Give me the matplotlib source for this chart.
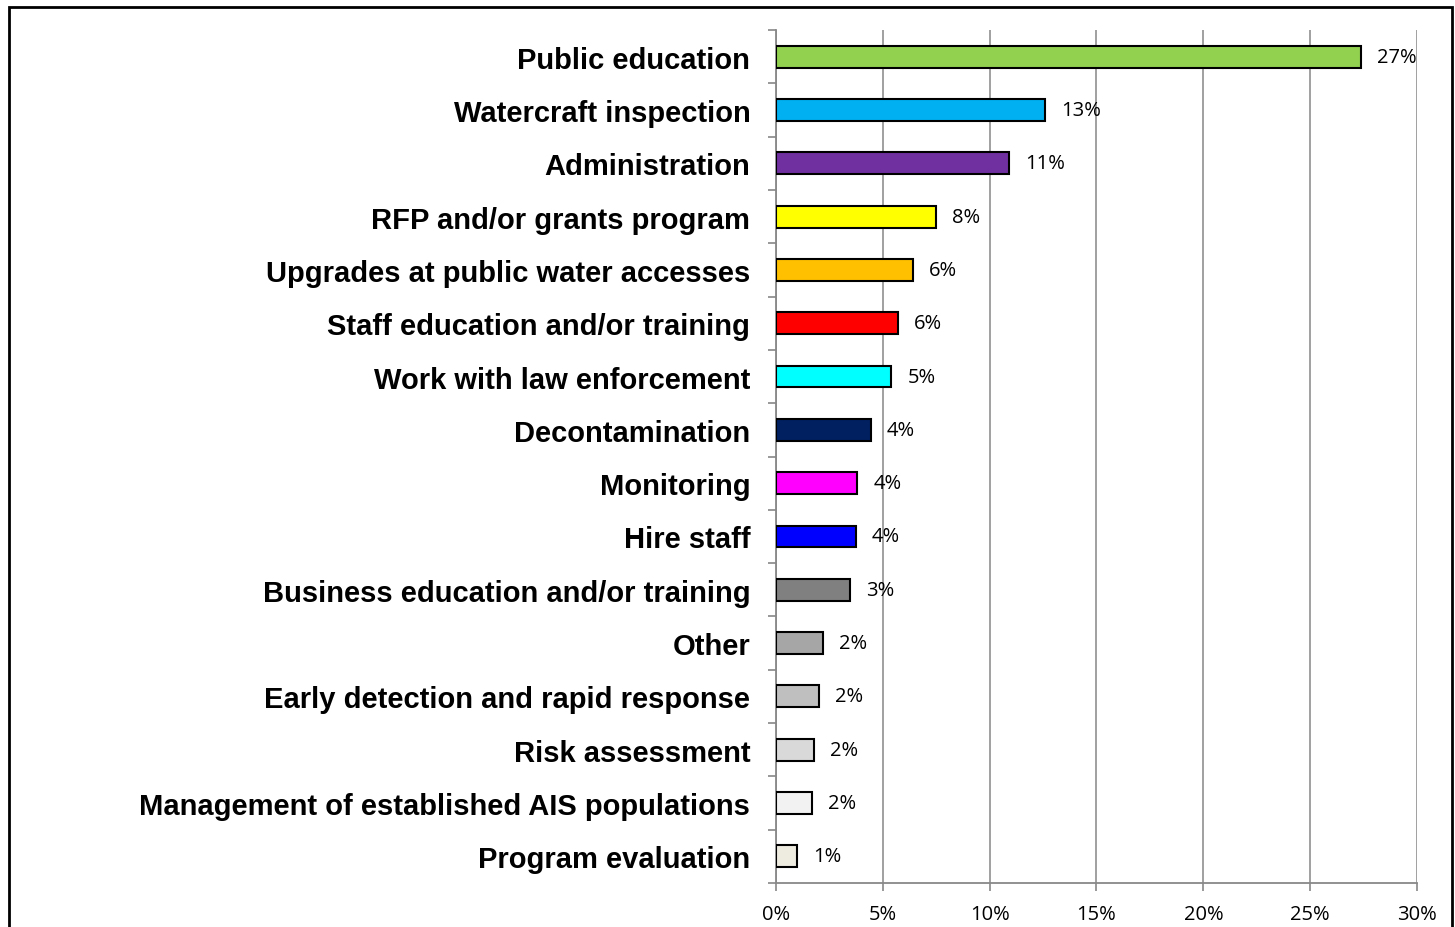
import matplotlib.pyplot as plt
from matplotlib.patches import Rectangle
from matplotlib.ticker import FixedLocator

categories = [
    "Public education",
    "Watercraft inspection",
    "Administration",
    "RFP and/or grants program",
    "Upgrades at public water accesses",
    "Staff education and/or training",
    "Work with law enforcement",
    "Decontamination",
    "Monitoring",
    "Hire staff",
    "Business education and/or training",
    "Other",
    "Early detection and rapid response",
    "Risk assessment",
    "Management of established AIS populations",
    "Program evaluation",
]
values = [27.4, 12.6, 10.9, 7.5, 6.4, 5.7, 5.4, 4.45, 3.8, 3.75, 3.45, 2.2, 2.0, 1.8, 1.7, 1.0]
colors = ["#92D050", "#00B0F0", "#7030A0", "#FFFF00", "#FFC000", "#FF0000",
          "#00FFFF", "#002060", "#FF00FF", "#0000FF", "#808080", "#A6A6A6",
          "#BFBFBF", "#D9D9D9", "#F2F2F2", "#EEECE1"]
xticks = [0, 5, 10, 15, 20, 25, 30]

fig = plt.figure(figsize=(14.55, 9.28), dpi=100)
ax = fig.add_axes([0.5333, 0.0474, 0.4406, 0.9192])

y = list(range(len(categories)))
ax.barh(y, values, height=0.41, color=colors, edgecolor="black", linewidth=1.5, zorder=3)
ax.set_ylim(len(categories) - 0.5, -0.5)
ax.set_xlim(0, 30)

for yi, v in zip(y, values):
    ax.text(v + 0.75, yi, f"{v:.0f}%", va="center", ha="left", fontsize=14.5,
            family="Open Sans", zorder=4)

ax.set_yticks(y)
ax.set_yticklabels(categories, fontsize=21, fontweight="bold", family="Liberation Sans")
ax.yaxis.set_minor_locator(FixedLocator([i - 0.5 for i in range(len(categories) + 1)]))
ax.tick_params(axis="y", which="major", length=0, pad=18.5)
ax.tick_params(axis="y", which="minor", length=6, color="#888888", width=1.2)

ax.set_xticks(xticks)
ax.set_xticklabels([f"{t}%" for t in xticks], fontsize=14.5, family="Open Sans")
ax.tick_params(axis="x", length=6, color="#888888", width=1.2, pad=9)

ax.grid(axis="x", color="#999999", linewidth=1.3, zorder=0)
for s in ["top", "right"]:
    ax.spines[s].set_visible(False)
for s in ["left", "bottom"]:
    ax.spines[s].set_color("#888888")
    ax.spines[s].set_linewidth(1.3)

fig.patches.append(Rectangle((9 / 1455, -0.02), 1443 / 1455, 1 - 8 / 928 + 0.02,
                             transform=fig.transFigure, fill=False,
                             edgecolor="black", linewidth=2))

fig.savefig("out.png", dpi=100)
